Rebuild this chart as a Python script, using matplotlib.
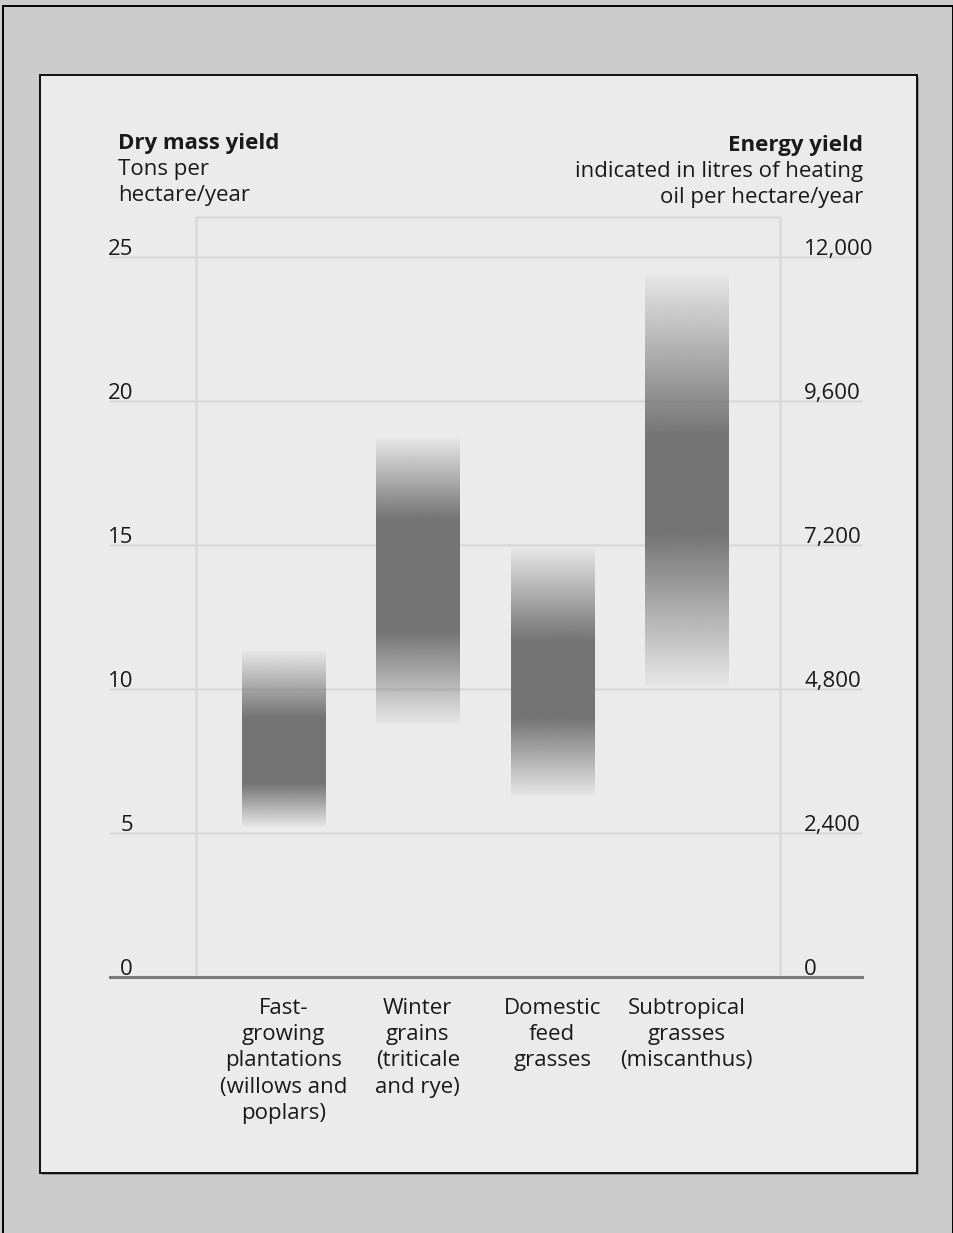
import numpy as np
import matplotlib.pyplot as plt
from matplotlib.patches import Rectangle
from matplotlib.colors import to_rgb

plt.rcParams['font.family'] = ['Open Sans', 'DejaVu Sans']

categories = ["Fast-\ngrowing\nplantations\n(willows and\npoplars)",
              "Winter\ngrains\n(triticale\nand rye)",
              "Domestic\nfeed\ngrasses",
              "Subtropical\ngrasses\n(miscanthus)"]

# dry mass yield (t/ha/year): full band and its dense core
range_low = [5.2, 8.8, 6.3, 10.1]
core_low = [6.7, 12.0, 9.0, 15.4]
core_high = [9.0, 15.9, 11.7, 18.8]
range_high = [11.3, 18.7, 14.9, 24.4]

left_ticks = [0, 5, 10, 15, 20, 25]
right_labels = ["0", "2,400", "4,800", "7,200", "9,600", "12,000"]

W, H = 954, 1233
TXT = '#1a1a1a'
FS = 16


def fy(y):
  return 1 - y / H


fig = plt.figure(figsize=(W / 100, H / 100), dpi=100)
fig.patch.set_facecolor('#cccccc')

# outer frame and inner panel (behind the axes)
fig.add_artist(Rectangle((3 / W, -0.02), 950 / W, fy(6) + 0.02, transform=fig.transFigure,
                         fill=False, ec='black', lw=1.4, zorder=-3))
fig.add_artist(Rectangle((42 / W, fy(1175)), 877 / W, 1098 / H, transform=fig.transFigure,
                         fc='#9a9a9a', ec='none', zorder=-2))
fig.add_artist(Rectangle((40 / W, fy(1173)), 877 / W, 1098 / H, transform=fig.transFigure,
                         fc='#ebebeb', ec='black', lw=1.3, zorder=-1))

ax = fig.add_axes([110 / W, fy(977), 752 / W, (977 - 216.7) / H])
ax.set_facecolor('none')
for s in ax.spines.values():
  s.set_visible(False)

x = np.arange(len(categories))
width = 0.62
frame_l, frame_r = -0.65, len(categories) - 1 + 0.70
top = 26.4

# grid and frame
for v in left_ticks[1:]:
  ax.axhline(v, color='#d9d9d9', lw=1.8, zorder=1)
ax.axvline(frame_l, color='#d9d9d9', lw=1.8, zorder=1)
ax.axvline(frame_r, color='#d9d9d9', lw=1.8, zorder=1)
ax.hlines(top, frame_l, frame_r, color='#d9d9d9', lw=1.8, zorder=1, clip_on=False)
ax.axhline(0, color='#7a7a7a', lw=2.2, zorder=3, clip_on=False)

# soft gradient bands
dark = np.array(to_rgb('#747474'))
for i in range(len(categories)):
  ys = np.linspace(range_high[i], range_low[i], 300)
  a = np.interp(ys, [range_low[i], core_low[i], core_high[i], range_high[i]], [0.04, 1, 1, 0.04])
  img = np.zeros((len(ys), 1, 4))
  img[:, 0, :3] = dark
  img[:, 0, 3] = a
  ax.imshow(img, extent=(x[i] - width / 2, x[i] + width / 2, range_low[i], range_high[i]),
            aspect='auto', interpolation='bilinear', zorder=2)

ax.set_xlim(-1.292, 4.307)
ax.set_ylim(0, top)

ax.set_xticks(x, categories, fontsize=FS, color=TXT, linespacing=1.33)
ax.tick_params(axis='x', length=0, pad=15)
ax.set_yticks([])

ytr = ax.get_yaxis_transform()
for v, lab in zip(left_ticks, right_labels):
  ax.text(0.0306, v + 0.08, str(v), transform=ytr, ha='right', va='baseline',
          fontsize=FS, color=TXT)
  ax.text(0.9229, v + 0.08, lab, transform=ytr, ha='left', va='baseline',
          fontsize=FS, color=TXT)

# axis titles
fig.text(118 / W, fy(149), "Dry mass yield", ha='left', va='baseline',
         fontsize=FS, fontweight='bold', color=TXT)
fig.text(118 / W, fy(175), "Tons per", ha='left', va='baseline', fontsize=FS, color=TXT)
fig.text(118 / W, fy(201), "hectare/year", ha='left', va='baseline', fontsize=FS, color=TXT)
fig.text(863 / W, fy(151), "Energy yield", ha='right', va='baseline',
         fontsize=FS, fontweight='bold', color=TXT)
fig.text(863 / W, fy(177), "indicated in litres of heating", ha='right', va='baseline',
         fontsize=FS, color=TXT)
fig.text(863 / W, fy(203), "oil per hectare/year", ha='right', va='baseline',
         fontsize=FS, color=TXT)

fig.savefig('out.png', dpi=100, facecolor=fig.get_facecolor())
